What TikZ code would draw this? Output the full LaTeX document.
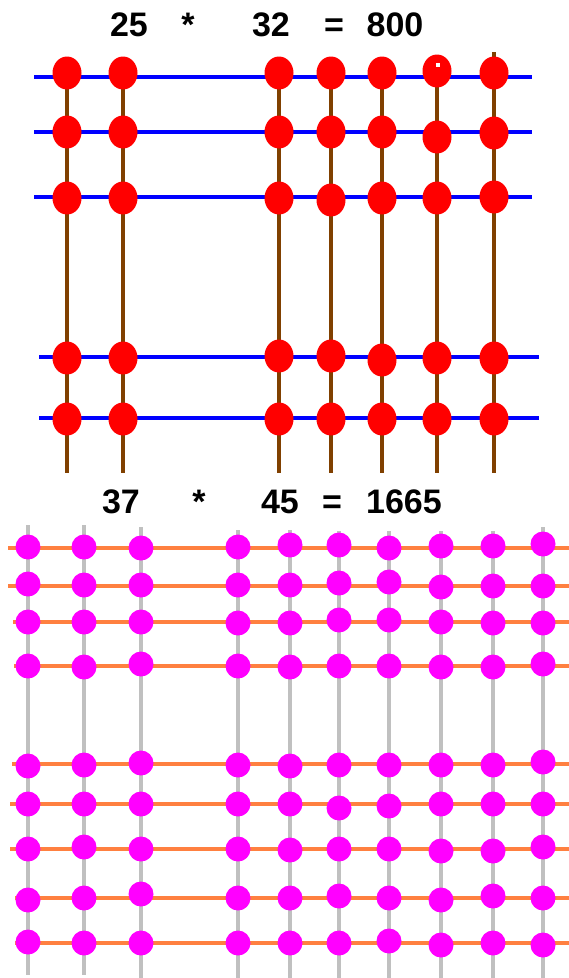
\documentclass[tikz,border=0pt]{standalone}
\usepackage{fontspec}
\setmainfont{Liberation Sans}
\usetikzlibrary{shapes.geometric}
\definecolor{brn}{HTML}{804000}
\definecolor{blu}{HTML}{0000FF}
\definecolor{rdd}{HTML}{FF0000}
\definecolor{org}{HTML}{FF8040}
\definecolor{gry}{HTML}{C0C0C0}
\definecolor{mag}{HTML}{FF00FF}
\begin{document}
\begin{tikzpicture}[x=1pt,y=-1pt,
  ttl/.style={anchor=base,inner sep=0pt,font=\bfseries\fontsize{34}{40}\selectfont},
  brownline/.style={draw=brn,line width=3.5pt},
  blueline/.style={draw=blu,line width=4.5pt},
  grayline/.style={draw=gry,line width=4pt},
  orangeline/.style={draw=org,line width=3.5pt},
  reddot/.style={ellipse,fill=rdd,inner sep=0pt,minimum width=29pt,minimum height=33pt},
  pinkdot/.style={circle,fill=mag,inner sep=0pt,minimum size=25pt}]
\useasboundingbox (0,0) rectangle (569,978);
% ---------- top: 25 * 32 = 800 ----------
\node[ttl] (a1) at (129,36) {25};
\node[ttl] (a2) at (188,36) {*};
\node[ttl] (a3) at (271,36) {32};
\node[ttl] (a4) at (334,36) {=};
\node[ttl] (a5) at (395,36) {800};
\foreach \x/\t [count=\i] in {67/58,123/58,279/58,331/58,382/58,437/58,494/52}
  \draw[brownline] (\x,\t) -- (\x,473);
\foreach \y/\a/\b in {77/34/532,132/34/532,197/34/532,357/39/539,418/39/539}
  \draw[blueline] (\a,\y) -- (\b,\y);
\foreach \y/\offs [count=\r] in {77/{-4,-4,-4,-4,-4,-6,-4},
    132/{0,0,0,0,0,5,1},
    197/{1,1,1,3,1,1,0},
    357/{1,1,-1,-1,3,1,1},
    418/{1,1,1,1,1,1,1}}{
  \foreach \o [count=\c] in \offs {
    \pgfmathsetmacro\xx{{67,123,279,331,382,437,494}[\c-1]}
    \node[reddot] (r\r-\c) at (\xx,\y+\o) {};
  }
}
\fill[white] (436,63) rectangle (440,67);
% ---------- bottom: 37 * 45 = 1665 ----------
\node[ttl] (b1) at (121,513) {37};
\node[ttl] (b2) at (199,513) {*};
\node[ttl] (b3) at (280,513) {45};
\node[ttl] (b4) at (332,513) {=};
\node[ttl] (b5) at (404,513) {1665};
\foreach \x/\t/\e in {28/525/975,84/525/975,141/527/978,238/530/978,290/530/978,
    339/531/978,389/531/978,441/531/978,493/531/978,543/527/978}
  \draw[grayline] (\x,\t) -- (\x,\e);
\foreach \y/\a in {548/8,586/8,622/13,666/14,764/12,804/10,849/10,898/15,943/15}
  \draw[orangeline] (\a,\y) -- (569,\y);
\foreach \y/\offs [count=\r] in {548/{-1,-1,0,-1,-3,-3,0,-2,-2,-4},
    586/{-2,-1,-1,-1,-1,-3,-4,1,0,0},
    622/{0,0,0,1,1,-2,-2,0,1,1},
    666/{0,1,-2,0,1,0,0,1,1,-2},
    764/{2,1,-1,1,2,1,1,1,1,-2},
    804/{0,0,0,0,0,4,2,0,0,0},
    849/{0,-2,0,0,1,0,0,2,2,-2},
    898/{2,0,-4,0,0,-2,0,2,-2,0},
    943/{-1,0,0,0,0,0,-2,2,0,2}}{
  \foreach \o [count=\c] in \offs {
    \pgfmathsetmacro\xx{{28,84,141,238,290,339,389,441,493,543}[\c-1]}
    \node[pinkdot] (p\r-\c) at (\xx,\y+\o) {};
  }
}
\end{tikzpicture}
\end{document}
